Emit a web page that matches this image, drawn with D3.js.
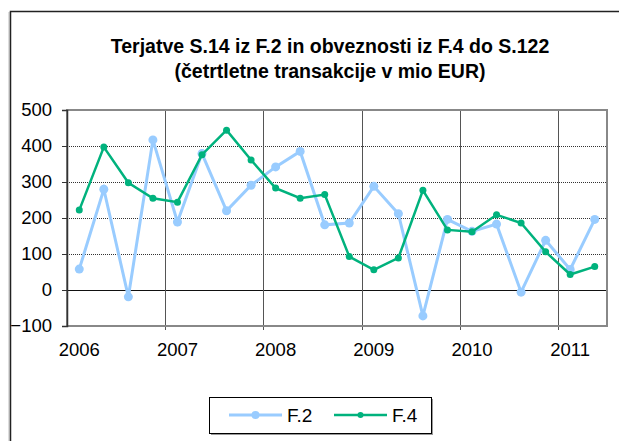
<!DOCTYPE html>
<html>
<head>
<meta charset="utf-8">
<script src="https://cdn.jsdelivr.net/npm/d3@7"></script>
<style>
  body { margin: 0; background: #fff; }
  text { font-family: "Liberation Sans", Arial, sans-serif; }
</style>
</head>
<body>
<script>
// quarterly data 2006Q1 .. 2011Q2
const years = ["2006", "2007", "2008", "2009", "2010", "2011"];
const quarters = ["Q1", "Q2", "Q3", "Q4"];
const categories = [];
years.forEach(y => quarters.forEach(q => categories.push(y + q)));
categories.length = 22;

const f2 = [58, 280, -19, 417, 189, 379, 220, 291, 342, 385, 181,
            186, 288, 212, -72, 196, 163, 183, -6, 138, 57, 196];
const f4 = [222, 397, 298, 255, 244, 376, 444, 361, 283, 255, 265,
            93, 56, 89, 277, 167, 162, 209, 186, 106, 43, 65];
const yTicks = [-100, 0, 100, 200, 300, 400, 500];

const width = 619, height = 441;
const plot = { left: 67, right: 607, top: 110, bottom: 326 };

const svg = d3.select("body").append("svg")
  .attr("width", width)
  .attr("height", height);

// outer chart frame
svg.append("line")
  .attr("x1", 9).attr("x2", 9).attr("y1", 12).attr("y2", height)
  .attr("stroke", "#bbb");
svg.append("path")
  .attr("d", `M10.5,${height} V11.5 H${width}`)
  .attr("fill", "none")
  .attr("stroke", "#222")
  .attr("stroke-width", 1.5);

// title
const title = svg.append("text")
  .attr("text-anchor", "middle")
  .attr("font-weight", "bold")
  .attr("font-size", 19.5)
  .attr("fill", "#000");
title.append("tspan").attr("x", 330).attr("y", 53).text("Terjatve S.14 iz F.2 in obveznosti iz F.4 do S.122");
title.append("tspan").attr("x", 330).attr("y", 78).text("(četrtletne transakcije v mio EUR)");

const x = d3.scaleBand()
  .domain(categories)
  .range([plot.left, plot.right]);

const y = d3.scaleLinear()
  .domain([-100, 500])
  .range([plot.bottom, plot.top]);

// horizontal gridlines (dotted)
svg.append("g")
  .selectAll("line")
  .data(yTicks.filter(d => d !== -100 && d !== 500 && d !== 0))
  .join("line")
  .attr("x1", plot.left).attr("x2", plot.right)
  .attr("y1", d => Math.round(y(d)) + 0.5).attr("y2", d => Math.round(y(d)) + 0.5)
  .attr("stroke", "#333")
  .attr("stroke-dasharray", "1,1");

// zero line
svg.append("line")
  .attr("x1", plot.left).attr("x2", plot.right)
  .attr("y1", Math.round(y(0)) + 0.5).attr("y2", Math.round(y(0)) + 0.5)
  .attr("stroke", "#111");

// vertical gridlines at year boundaries
const yearStarts = categories.filter((c, i) => i > 0 && i % 4 === 0);
svg.append("g")
  .selectAll("line")
  .data(yearStarts)
  .join("line")
  .attr("x1", d => Math.round(x(d)) + 0.5).attr("x2", d => Math.round(x(d)) + 0.5)
  .attr("y1", plot.top).attr("y2", plot.bottom + 4)
  .attr("stroke", "#555");

// plot border
svg.append("rect")
  .attr("x", plot.left).attr("y", plot.top)
  .attr("width", plot.right - plot.left).attr("height", plot.bottom - plot.top)
  .attr("fill", "none")
  .attr("stroke", "#888")
  .attr("stroke-width", 2);

// y axis
const yAxis = svg.append("g")
  .attr("transform", `translate(${plot.left},0)`)
  .call(d3.axisLeft(y).tickValues(yTicks).tickSize(5).tickPadding(10));
yAxis.select(".domain").attr("stroke", "#333").attr("stroke-width", 1.5);
yAxis.selectAll(".tick line").attr("stroke", "#333");
yAxis.selectAll("text")
  .attr("font-size", 18.5)
  .attr("font-family", "Liberation Sans, Arial, sans-serif")
  .attr("fill", "#000");

// x axis labels (year under Q1)
svg.append("g")
  .selectAll("text")
  .data(categories.filter((c, i) => i % 4 === 0))
  .join("text")
  .attr("x", d => x(d) + x.bandwidth() / 2)
  .attr("y", 356)
  .attr("text-anchor", "middle")
  .attr("font-size", 18.5)
  .attr("fill", "#000")
  .text(d => d.slice(0, 4));

const series = [
  { name: "F.2", values: f2, color: "#99ccff", width: 3, r: 4.5 },
  { name: "F.4", values: f4, color: "#00b27d", width: 2.5, r: 3.5 }
];

const line = d3.line()
  .x((d, i) => x(categories[i]) + x.bandwidth() / 2)
  .y(d => y(d));

series.forEach(s => {
  svg.append("path")
    .datum(s.values)
    .attr("d", line)
    .attr("fill", "none")
    .attr("stroke", s.color)
    .attr("stroke-width", s.width);
  svg.append("g")
    .selectAll("circle")
    .data(s.values)
    .join("circle")
    .attr("cx", (d, i) => x(categories[i]) + x.bandwidth() / 2)
    .attr("cy", d => y(d))
    .attr("r", s.r)
    .attr("fill", s.color);
});

// legend
const legend = svg.append("g");
legend.append("rect")
  .attr("x", 211).attr("y", 399)
  .attr("width", 222).attr("height", 36)
  .attr("fill", "#999");
legend.append("rect")
  .attr("x", 209.5).attr("y", 397.5)
  .attr("width", 222).attr("height", 36)
  .attr("fill", "#fff")
  .attr("stroke", "#000");

const legendX = [229, 334];
series.forEach((s, i) => {
  const g = legend.append("g").attr("transform", `translate(${legendX[i]},415)`);
  g.append("line")
    .attr("x1", 0).attr("x2", 53)
    .attr("stroke", s.color)
    .attr("stroke-width", s.width);
  g.append("circle")
    .attr("cx", 26.5).attr("r", s.r - 0.5)
    .attr("fill", s.color);
  g.append("text")
    .attr("x", 58).attr("y", 7)
    .attr("font-size", 19)
    .attr("fill", "#000")
    .text(s.name);
});
</script>
</body>
</html>
